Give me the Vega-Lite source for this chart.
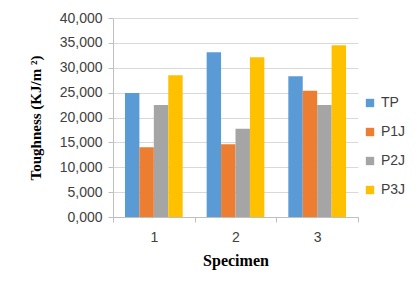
{
  "$schema": "https://vega.github.io/schema/vega-lite/v6.json",
  "width": 245,
  "height": 199,
  "autosize": {"type": "none"},
  "padding": {"left": 113, "top": 18, "right": 60, "bottom": 65},
  "background": "white",
  "data": {
    "values": [
      {"specimen": "1", "series": "TP", "value": 24.9},
      {"specimen": "1", "series": "P1J", "value": 14.0},
      {"specimen": "1", "series": "P2J", "value": 22.5},
      {"specimen": "1", "series": "P3J", "value": 28.5},
      {"specimen": "2", "series": "TP", "value": 33.1},
      {"specimen": "2", "series": "P1J", "value": 14.6},
      {"specimen": "2", "series": "P2J", "value": 17.75},
      {"specimen": "2", "series": "P3J", "value": 32.1},
      {"specimen": "3", "series": "TP", "value": 28.3},
      {"specimen": "3", "series": "P1J", "value": 25.4},
      {"specimen": "3", "series": "P2J", "value": 22.5},
      {"specimen": "3", "series": "P3J", "value": 34.5}
    ]
  },
  "mark": {"type": "bar"},
  "encoding": {
    "x": {
      "field": "specimen",
      "type": "nominal",
      "scale": {"paddingInner": 0, "paddingOuter": 0},
      "axis": {
        "title": "Specimen",
        "titleFont": "Liberation Serif",
        "titleFontSize": 16,
        "titleFontWeight": "bold",
        "titleColor": "#000000",
        "titlePadding": 8,
        "labelAngle": 0,
        "labelFont": "Liberation Sans",
        "labelFontSize": 14,
        "labelColor": "#404040",
        "labelPadding": 8,
        "tickBand": "extent",
        "tickSize": 5,
        "tickColor": "#bfbfbf",
        "domainColor": "#bfbfbf",
        "grid": false
      }
    },
    "xOffset": {
      "field": "series",
      "type": "nominal",
      "sort": ["TP", "P1J", "P2J", "P3J"],
      "scale": {"paddingInner": 0, "paddingOuter": 0.83}
    },
    "y": {
      "field": "value",
      "type": "quantitative",
      "scale": {"domain": [0, 40], "nice": false},
      "axis": {
        "title": "Toughness (KJ/m ²)",
        "titleFont": "Liberation Serif",
        "titleFontSize": 15,
        "titleFontWeight": "bold",
        "titleColor": "#000000",
        "titlePadding": 16,
        "values": [0, 5, 10, 15, 20, 25, 30, 35, 40],
        "labelExpr": "replace(format(datum.value, '.3f'), '.', ',')",
        "labelFont": "Liberation Sans",
        "labelFontSize": 14,
        "labelColor": "#404040",
        "labelPadding": 6,
        "tickSize": 5,
        "tickColor": "#bfbfbf",
        "domainColor": "#bfbfbf",
        "gridColor": "#d9d9d9"
      }
    },
    "color": {
      "field": "series",
      "type": "nominal",
      "sort": ["TP", "P1J", "P2J", "P3J"],
      "scale": {
        "domain": ["TP", "P1J", "P2J", "P3J"],
        "range": ["#5B9BD5", "#ED7D31", "#A5A5A5", "#FFC000"]
      },
      "legend": {
        "title": null,
        "orient": "none",
        "legendX": 250,
        "legendY": 78,
        "symbolType": "square",
        "symbolSize": 70,
        "symbolStrokeWidth": 0,
        "labelFont": "Liberation Sans",
        "labelFontSize": 14,
        "labelColor": "#404040",
        "rowPadding": 15
      }
    }
  },
  "config": {"view": {"stroke": null}}
}
